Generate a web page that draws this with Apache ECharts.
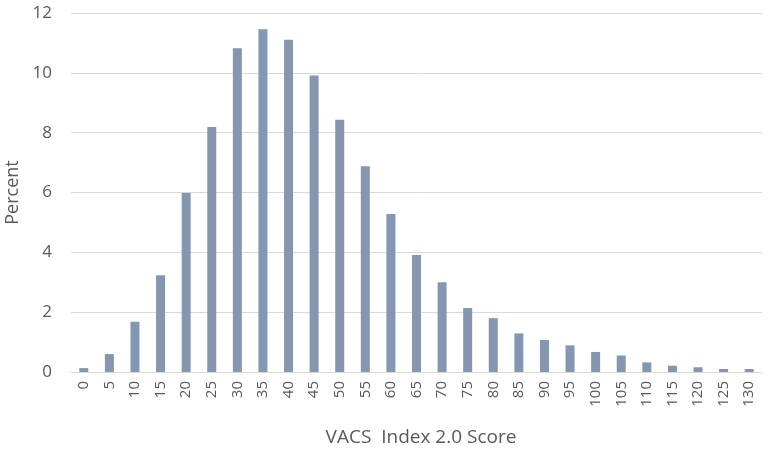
<!DOCTYPE html>
<html>
<head>
<meta charset="utf-8">
<script src="https://cdn.jsdelivr.net/npm/echarts@6/dist/echarts.min.js"></script>
<style>
  html, body { margin: 0; padding: 0; background: #fff; }
  #chart { width: 768px; height: 451px; }
</style>
</head>
<body>
<div id="chart"></div>
<script>
// score bins and percent per bin
const scores = ['0', '5', '10', '15', '20', '25', '30', '35', '40', '45', '50', '55', '60', '65',
  '70', '75', '80', '85', '90', '95', '100', '105', '110', '115', '120', '125', '130']
const percents = [0.13, 0.6, 1.68, 3.23, 5.98, 8.19, 10.82, 11.46, 11.11, 9.91, 8.43, 6.88, 5.28, 3.91,
  3.0, 2.14, 1.8, 1.29, 1.07, 0.89, 0.67, 0.55, 0.32, 0.21, 0.16, 0.1, 0.1]

const chart = echarts.init(document.getElementById('chart'))
const textColor = '#595959'
const fontFamily = '"Open Sans", "Noto Sans", sans-serif'

chart.setOption({
  animation: false,
  grid: { left: 71, right: 6, top: 13, bottom: 79, outerBoundsMode: 'none' },
  xAxis: {
    type: 'category',
    data: scores,
    name: 'VACS  Index 2.0 Score',
    nameLocation: 'middle',
    nameGap: 56,
    nameTextStyle: { color: textColor, fontSize: 19, fontFamily: fontFamily, padding: [0, 0, 0, 9] },
    axisLine: { lineStyle: { color: '#d9d9d9' } },
    axisTick: { show: false },
    axisLabel: {
      rotate: 90,
      interval: 0,
      color: textColor,
      fontSize: 15,
      fontFamily: fontFamily,
      margin: 9
    }
  },
  yAxis: {
    type: 'value',
    min: 0,
    max: 12,
    interval: 2,
    name: 'Percent',
    nameLocation: 'middle',
    nameGap: 49,
    nameTextStyle: { color: textColor, fontSize: 18, fontFamily: fontFamily },
    axisLine: { show: false },
    axisTick: { show: false },
    axisLabel: { color: textColor, fontSize: 17, fontFamily: fontFamily, margin: 19 },
    splitLine: { lineStyle: { color: '#d9d9d9' } }
  },
  series: [
    {
      type: 'bar',
      data: percents,
      barWidth: 9,
      itemStyle: { color: '#8496b0' }
    }
  ]
})
</script>
</body>
</html>
